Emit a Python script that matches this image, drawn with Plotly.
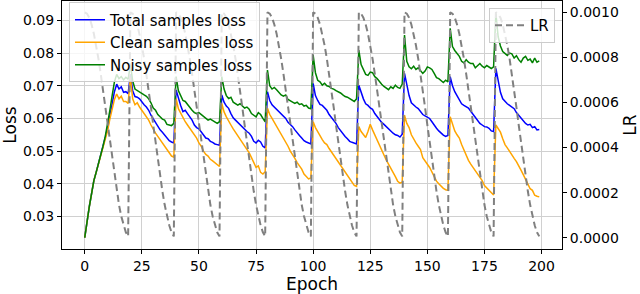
import plotly.graph_objects as go

epochs = list(range(200))

total_loss = [
    0.0235, 0.0290, 0.0330, 0.0370, 0.0410, 0.0435, 0.0460, 0.0485, 0.0515, 0.0543, 0.0570, 0.0610, 0.0650, 0.0682, 0.0705, 0.0690, 0.0697, 0.0680, 0.0682, 0.0676,
    0.0735, 0.0685, 0.0667, 0.0665, 0.0660, 0.0650, 0.0642, 0.0635, 0.0625, 0.0610, 0.0598, 0.0585, 0.0575, 0.0565, 0.0558, 0.0550, 0.0540, 0.0532, 0.0528, 0.0525,
    0.0687, 0.0660, 0.0640, 0.0621, 0.0625, 0.0615, 0.0605, 0.0595, 0.0580, 0.0572, 0.0568, 0.0558, 0.0548, 0.0540, 0.0538, 0.0530, 0.0527, 0.0522, 0.0520, 0.0518,
    0.0672, 0.0650, 0.0638, 0.0631, 0.0615, 0.0602, 0.0595, 0.0588, 0.0580, 0.0572, 0.0565, 0.0560, 0.0555, 0.0545, 0.0530, 0.0525, 0.0533, 0.0528, 0.0515, 0.0510,
    0.0682, 0.0655, 0.0642, 0.0635, 0.0625, 0.0620, 0.0612, 0.0605, 0.0600, 0.0588, 0.0582, 0.0575, 0.0565, 0.0555, 0.0548, 0.0540, 0.0532, 0.0528, 0.0525, 0.0522,
    0.0707, 0.0670, 0.0655, 0.0643, 0.0640, 0.0632, 0.0625, 0.0612, 0.0603, 0.0595, 0.0585, 0.0572, 0.0562, 0.0555, 0.0545, 0.0538, 0.0530, 0.0527, 0.0524, 0.0522,
    0.0702, 0.0680, 0.0660, 0.0645, 0.0640, 0.0632, 0.0628, 0.0615, 0.0605, 0.0598, 0.0588, 0.0582, 0.0575, 0.0566, 0.0560, 0.0555, 0.0550, 0.0548, 0.0543, 0.0552,
    0.0738, 0.0700, 0.0670, 0.0648, 0.0640, 0.0635, 0.0630, 0.0622, 0.0612, 0.0608, 0.0605, 0.0600, 0.0590, 0.0578, 0.0570, 0.0562, 0.0555, 0.0549, 0.0545, 0.0548,
    0.0728, 0.0700, 0.0682, 0.0668, 0.0658, 0.0645, 0.0640, 0.0635, 0.0632, 0.0622, 0.0612, 0.0605, 0.0595, 0.0585, 0.0580, 0.0575, 0.0574, 0.0570, 0.0562, 0.0560,
    0.0753, 0.0720, 0.0680, 0.0660, 0.0652, 0.0645, 0.0640, 0.0635, 0.0630, 0.0618, 0.0610, 0.0602, 0.0592, 0.0585, 0.0580, 0.0582, 0.0572, 0.0575, 0.0565, 0.0566,
]

clean_loss = [
    0.0235, 0.0290, 0.0330, 0.0370, 0.0410, 0.0435, 0.0460, 0.0485, 0.0515, 0.0538, 0.0562, 0.0598, 0.0630, 0.0658, 0.0675, 0.0660, 0.0668, 0.0652, 0.0652, 0.0646,
    0.0725, 0.0660, 0.0642, 0.0648, 0.0635, 0.0625, 0.0615, 0.0605, 0.0595, 0.0580, 0.0565, 0.0555, 0.0545, 0.0535, 0.0525, 0.0515, 0.0508, 0.0495, 0.0485, 0.0482,
    0.0661, 0.0630, 0.0615, 0.0605, 0.0590, 0.0580, 0.0570, 0.0560, 0.0550, 0.0540, 0.0525, 0.0515, 0.0500, 0.0490, 0.0485, 0.0475, 0.0470, 0.0465, 0.0458, 0.0453,
    0.0646, 0.0620, 0.0605, 0.0590, 0.0580, 0.0568, 0.0558, 0.0548, 0.0535, 0.0528, 0.0515, 0.0505, 0.0495, 0.0480, 0.0465, 0.0450, 0.0455, 0.0435, 0.0430, 0.0437,
    0.0631, 0.0612, 0.0600, 0.0588, 0.0578, 0.0565, 0.0552, 0.0540, 0.0530, 0.0515, 0.0500, 0.0490, 0.0478, 0.0465, 0.0455, 0.0445, 0.0430, 0.0422, 0.0415, 0.0418,
    0.0590, 0.0572, 0.0558, 0.0546, 0.0535, 0.0525, 0.0520, 0.0508, 0.0498, 0.0488, 0.0478, 0.0468, 0.0458, 0.0448, 0.0438, 0.0428, 0.0418, 0.0408, 0.0395, 0.0392,
    0.0575, 0.0560, 0.0552, 0.0542, 0.0560, 0.0582, 0.0565, 0.0549, 0.0535, 0.0520, 0.0505, 0.0490, 0.0473, 0.0460, 0.0448, 0.0437, 0.0422, 0.0408, 0.0402, 0.0405,
    0.0610, 0.0585, 0.0572, 0.0550, 0.0535, 0.0525, 0.0515, 0.0505, 0.0480, 0.0468, 0.0460, 0.0450, 0.0435, 0.0420, 0.0408, 0.0400, 0.0392, 0.0386, 0.0382, 0.0380,
    0.0605, 0.0580, 0.0562, 0.0550, 0.0540, 0.0520, 0.0502, 0.0490, 0.0472, 0.0460, 0.0450, 0.0440, 0.0430, 0.0420, 0.0410, 0.0395, 0.0388, 0.0380, 0.0372, 0.0366,
    0.0580, 0.0570, 0.0558, 0.0538, 0.0520, 0.0510, 0.0498, 0.0488, 0.0478, 0.0468, 0.0457, 0.0442, 0.0428, 0.0415, 0.0400, 0.0385, 0.0380, 0.0365, 0.0362, 0.0360,
]

noisy_loss = [
    0.0235, 0.0290, 0.0330, 0.0370, 0.0410, 0.0435, 0.0460, 0.0485, 0.0515, 0.0545, 0.0580, 0.0625, 0.0670, 0.0712, 0.0735, 0.0722, 0.0728, 0.0718, 0.0726, 0.0720,
    0.0765, 0.0715, 0.0690, 0.0685, 0.0680, 0.0675, 0.0672, 0.0668, 0.0660, 0.0648, 0.0632, 0.0625, 0.0612, 0.0605, 0.0598, 0.0595, 0.0582, 0.0580, 0.0578, 0.0585,
    0.0728, 0.0685, 0.0668, 0.0655, 0.0652, 0.0642, 0.0635, 0.0625, 0.0618, 0.0615, 0.0618, 0.0612, 0.0605, 0.0600, 0.0595, 0.0598, 0.0593, 0.0590, 0.0585, 0.0590,
    0.0728, 0.0690, 0.0670, 0.0661, 0.0665, 0.0650, 0.0645, 0.0641, 0.0645, 0.0638, 0.0632, 0.0635, 0.0628, 0.0615, 0.0610, 0.0605, 0.0618, 0.0612, 0.0600, 0.0590,
    0.0748, 0.0700, 0.0690, 0.0695, 0.0688, 0.0680, 0.0672, 0.0668, 0.0672, 0.0658, 0.0655, 0.0650, 0.0646, 0.0650, 0.0643, 0.0645, 0.0638, 0.0640, 0.0632, 0.0630,
    0.0794, 0.0740, 0.0717, 0.0712, 0.0702, 0.0708, 0.0700, 0.0698, 0.0692, 0.0690, 0.0685, 0.0682, 0.0678, 0.0672, 0.0667, 0.0665, 0.0660, 0.0656, 0.0652, 0.0660,
    0.0809, 0.0765, 0.0748, 0.0735, 0.0732, 0.0742, 0.0740, 0.0728, 0.0722, 0.0712, 0.0705, 0.0698, 0.0692, 0.0688, 0.0697, 0.0692, 0.0702, 0.0695, 0.0692, 0.0705,
    0.0855, 0.0775, 0.0758, 0.0752, 0.0760, 0.0750, 0.0755, 0.0748, 0.0738, 0.0745, 0.0758, 0.0755, 0.0750, 0.0738, 0.0725, 0.0722, 0.0715, 0.0710, 0.0717, 0.0712,
    0.0876, 0.0820, 0.0808, 0.0800, 0.0790, 0.0775, 0.0770, 0.0780, 0.0772, 0.0768, 0.0768, 0.0755, 0.0762, 0.0768, 0.0760, 0.0755, 0.0762, 0.0756, 0.0753, 0.0758,
    0.0921, 0.0850, 0.0822, 0.0805, 0.0800, 0.0793, 0.0800, 0.0798, 0.0785, 0.0792, 0.0780, 0.0772, 0.0785, 0.0790, 0.0778, 0.0782, 0.0770, 0.0785, 0.0772, 0.0776,
]

learning_rate = [
    0.001000, 0.000994, 0.000976, 0.000946, 0.000905, 0.000854, 0.000794, 0.000727, 0.000655, 0.000578, 0.000500, 0.000422, 0.000345, 0.000273, 0.000206, 0.000146, 0.000095, 0.000055, 0.000024, 0.000006,
    0.001000, 0.000994, 0.000976, 0.000946, 0.000905, 0.000854, 0.000794, 0.000727, 0.000655, 0.000578, 0.000500, 0.000422, 0.000345, 0.000273, 0.000206, 0.000146, 0.000095, 0.000055, 0.000024, 0.000006,
    0.001000, 0.000994, 0.000976, 0.000946, 0.000905, 0.000854, 0.000794, 0.000727, 0.000655, 0.000578, 0.000500, 0.000422, 0.000345, 0.000273, 0.000206, 0.000146, 0.000095, 0.000055, 0.000024, 0.000006,
    0.001000, 0.000994, 0.000976, 0.000946, 0.000905, 0.000854, 0.000794, 0.000727, 0.000655, 0.000578, 0.000500, 0.000422, 0.000345, 0.000273, 0.000206, 0.000146, 0.000095, 0.000055, 0.000024, 0.000006,
    0.001000, 0.000994, 0.000976, 0.000946, 0.000905, 0.000854, 0.000794, 0.000727, 0.000655, 0.000578, 0.000500, 0.000422, 0.000345, 0.000273, 0.000206, 0.000146, 0.000095, 0.000055, 0.000024, 0.000006,
    0.001000, 0.000994, 0.000976, 0.000946, 0.000905, 0.000854, 0.000794, 0.000727, 0.000655, 0.000578, 0.000500, 0.000422, 0.000345, 0.000273, 0.000206, 0.000146, 0.000095, 0.000055, 0.000024, 0.000006,
    0.001000, 0.000994, 0.000976, 0.000946, 0.000905, 0.000854, 0.000794, 0.000727, 0.000655, 0.000578, 0.000500, 0.000422, 0.000345, 0.000273, 0.000206, 0.000146, 0.000095, 0.000055, 0.000024, 0.000006,
    0.001000, 0.000994, 0.000976, 0.000946, 0.000905, 0.000854, 0.000794, 0.000727, 0.000655, 0.000578, 0.000500, 0.000422, 0.000345, 0.000273, 0.000206, 0.000146, 0.000095, 0.000055, 0.000024, 0.000006,
    0.001000, 0.000994, 0.000976, 0.000946, 0.000905, 0.000854, 0.000794, 0.000727, 0.000655, 0.000578, 0.000500, 0.000422, 0.000345, 0.000273, 0.000206, 0.000146, 0.000095, 0.000055, 0.000024, 0.000006,
    0.001000, 0.000994, 0.000976, 0.000946, 0.000905, 0.000854, 0.000794, 0.000727, 0.000655, 0.000578, 0.000500, 0.000422, 0.000345, 0.000273, 0.000206, 0.000146, 0.000095, 0.000055, 0.000024, 0.000006,
]

x_ticks = [0, 25, 50, 75, 100, 125, 150, 175, 200]
loss_ticks = [0.03, 0.04, 0.05, 0.06, 0.07, 0.08, 0.09]
lr_ticks = [0.0, 0.0002, 0.0004, 0.0006, 0.0008, 0.0010]
lr_tick_labels = ["0.0000", "0.0002", "0.0004", "0.0006", "0.0008", "0.0010"]

FONT = "DejaVu Sans"

fig = go.Figure()
fig.add_trace(go.Scatter(x=epochs, y=total_loss, mode="lines", name="Total samples loss",
                         line=dict(color="#0000ff", width=1.5), legend="legend"))
fig.add_trace(go.Scatter(x=epochs, y=clean_loss, mode="lines", name="Clean samples loss",
                         line=dict(color="#ffa500", width=1.5), legend="legend"))
fig.add_trace(go.Scatter(x=epochs, y=noisy_loss, mode="lines", name="Noisy samples loss",
                         line=dict(color="#008000", width=1.5), legend="legend"))
fig.add_trace(go.Scatter(x=epochs, y=learning_rate, mode="lines", name="LR", yaxis="y2",
                         line=dict(color="#808080", width=2, dash="7px,4px"), legend="legend2"))

fig.update_layout(
    width=640, height=294,
    margin=dict(l=62, r=78, t=1, b=45),
    paper_bgcolor="white", plot_bgcolor="white",
    font=dict(family=FONT, size=14, color="black"),
    xaxis=dict(
        range=[-9.95, 208.95], tickvals=x_ticks, ticks="outside", ticklen=4, tickwidth=1,
        tickcolor="black", showline=True, linecolor="black", linewidth=1, mirror=True,
        showgrid=True, gridcolor="#d0d0d0", gridwidth=1, zeroline=False,
        title=dict(text="Epoch", font=dict(size=17), standoff=4),
        tickfont=dict(size=14),
    ),
    yaxis=dict(
        range=[0.02005, 0.09595], tickvals=loss_ticks, tickformat=".2f", ticks="outside",
        ticklen=4, tickwidth=1, tickcolor="black", showline=True, linecolor="black", linewidth=1,
        showgrid=True, gridcolor="#d0d0d0", gridwidth=1, zeroline=False,
        title=dict(text="Loss", font=dict(size=17), standoff=6),
        tickfont=dict(size=14),
    ),
    yaxis2=dict(
        range=[-0.00005, 0.00105], tickvals=lr_ticks, ticktext=lr_tick_labels,
        overlaying="y", side="right", ticks="outside", ticklen=4, tickwidth=1,
        tickcolor="black", showline=True, linecolor="black", linewidth=1,
        showgrid=False, zeroline=False,
        title=dict(text="LR", font=dict(size=17), standoff=6),
        tickfont=dict(size=14),
    ),
    legend=dict(
        x=0.014, y=0.994, xanchor="left", yanchor="top",
        bgcolor="rgba(255,255,255,0.8)", bordercolor="#cccccc", borderwidth=1,
        font=dict(size=15), tracegroupgap=0,
    ),
    legend2=dict(
        x=0.986, y=0.972, xanchor="right", yanchor="top",
        bgcolor="rgba(255,255,255,0.8)", bordercolor="#cccccc", borderwidth=1,
        font=dict(size=15),
    ),
    showlegend=True,
)

fig.write_html("out.html", config={"displayModeBar": False},
               post_script="document.body.style.margin='0';document.body.style.overflow='hidden';")
